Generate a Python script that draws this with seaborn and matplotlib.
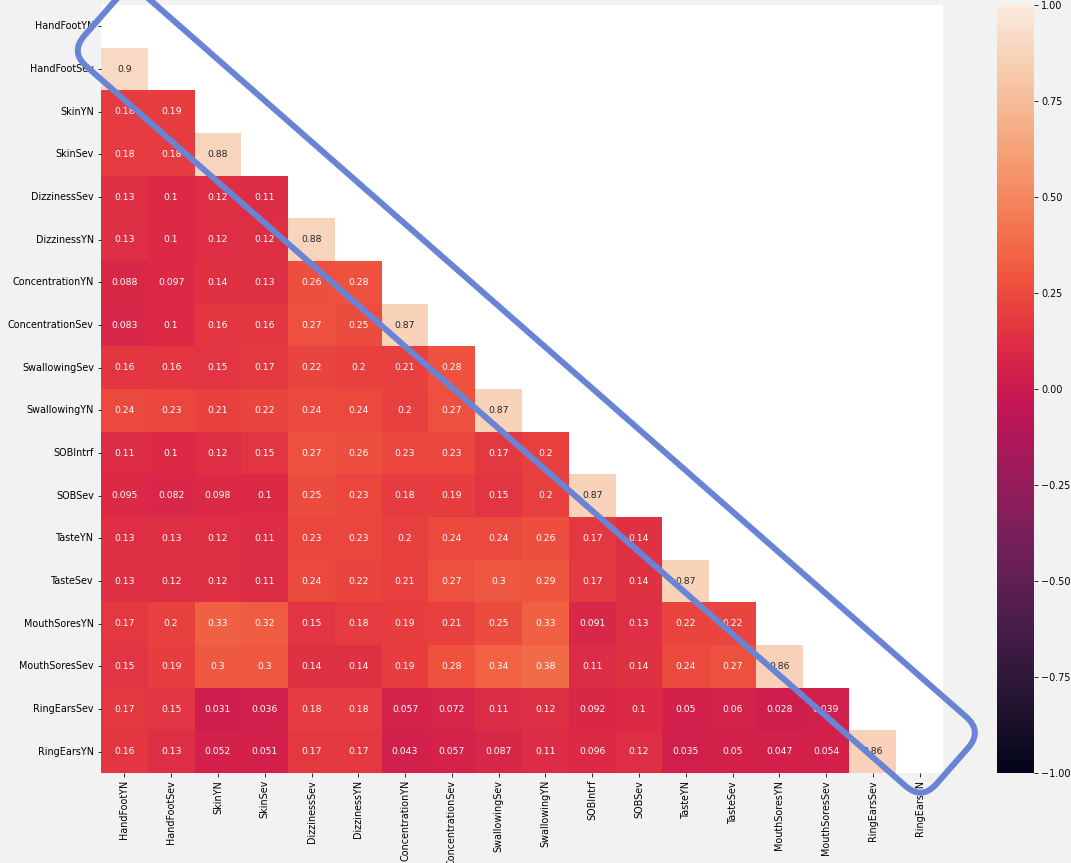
import numpy as np
import pandas as pd
import matplotlib
matplotlib.use("Agg")
import matplotlib.pyplot as plt
import seaborn as sns
from matplotlib.patches import FancyBboxPatch
from matplotlib.transforms import Affine2D, IdentityTransform

labels = ["HandFootYN", "HandFootSev", "SkinYN", "SkinSev", "DizzinessSev",
          "DizzinessYN", "ConcentrationYN", "ConcentrationSev", "SwallowingSev",
          "SwallowingYN", "SOBIntrf", "SOBSev", "TasteYN", "TasteSev",
          "MouthSoresYN", "MouthSoresSev", "RingEarsSev", "RingEarsYN"]

# lower triangle rows (below the diagonal)
lower = [
    [],
    [0.9],
    [0.18, 0.19],
    [0.18, 0.18, 0.88],
    [0.13, 0.1, 0.12, 0.11],
    [0.13, 0.1, 0.12, 0.12, 0.88],
    [0.088, 0.097, 0.14, 0.13, 0.26, 0.28],
    [0.083, 0.1, 0.16, 0.16, 0.27, 0.25, 0.87],
    [0.16, 0.16, 0.15, 0.17, 0.22, 0.2, 0.21, 0.28],
    [0.24, 0.23, 0.21, 0.22, 0.24, 0.24, 0.2, 0.27, 0.87],
    [0.11, 0.1, 0.12, 0.15, 0.27, 0.26, 0.23, 0.23, 0.17, 0.2],
    [0.095, 0.082, 0.098, 0.1, 0.25, 0.23, 0.18, 0.19, 0.15, 0.2, 0.87],
    [0.13, 0.13, 0.12, 0.11, 0.23, 0.23, 0.2, 0.24, 0.24, 0.26, 0.17, 0.14],
    [0.13, 0.12, 0.12, 0.11, 0.24, 0.22, 0.21, 0.27, 0.3, 0.29, 0.17, 0.14, 0.87],
    [0.17, 0.2, 0.33, 0.32, 0.15, 0.18, 0.19, 0.21, 0.25, 0.33, 0.091, 0.13, 0.22, 0.22],
    [0.15, 0.19, 0.3, 0.3, 0.14, 0.14, 0.19, 0.28, 0.34, 0.38, 0.11, 0.14, 0.24, 0.27, 0.86],
    [0.17, 0.15, 0.031, 0.036, 0.18, 0.18, 0.057, 0.072, 0.11, 0.12, 0.092, 0.1, 0.05, 0.06, 0.028, 0.039],
    [0.16, 0.13, 0.052, 0.051, 0.17, 0.17, 0.043, 0.057, 0.087, 0.11, 0.096, 0.12, 0.035, 0.05, 0.047, 0.054, 0.86],
]
cbar_ticks = [-1.0, -0.75, -0.5, -0.25, 0.0, 0.25, 0.5, 0.75, 1.0]

n = len(labels)
mat = np.eye(n)
for i, row in enumerate(lower):
    for j, v in enumerate(row):
        mat[i, j] = v
        mat[j, i] = v
corr = pd.DataFrame(mat, index=labels, columns=labels)
mask = np.triu(np.ones_like(mat, dtype=bool))

W, H, DPI = 1071, 863, 72
fig = plt.figure(figsize=(W / DPI, H / DPI), dpi=DPI, facecolor="#f2f2f2")
ax = fig.add_axes([101 / W, 1 - 773 / H, (943 - 101) / W, (773 - 5) / H])
cax = fig.add_axes([997 / W, 1 - 773 / H, 37 / W, (773 - 5) / H])
ax.set_facecolor("white")

sns.heatmap(corr, mask=mask, vmin=-1, vmax=1, annot=True, ax=ax, cbar_ax=cax,
            annot_kws={"fontsize": 9.2})
ax.set_xticklabels(labels, rotation=90, fontsize=9.6)
ax.set_yticklabels(labels, rotation=0, fontsize=9.6)
cax.set_yticks(cbar_ticks)
cax.set_yticklabels([f"{t:.2f}".replace("-", "\u2212") for t in cbar_ticks], fontsize=9.6)

# blue rounded-rectangle highlight drawn over the diagonal
length, width = 1134, 92
box = FancyBboxPatch((0, 0), length, width,
                     boxstyle="round,pad=0,rounding_size=22",
                     fill=False, edgecolor="#6a84d5", linewidth=6,
                     transform=Affine2D().rotate_deg(-41.3).translate(70, H - 52) + IdentityTransform(),
                     clip_on=False)
fig.add_artist(box)

fig.savefig("out.png", dpi=DPI, facecolor=fig.get_facecolor())
